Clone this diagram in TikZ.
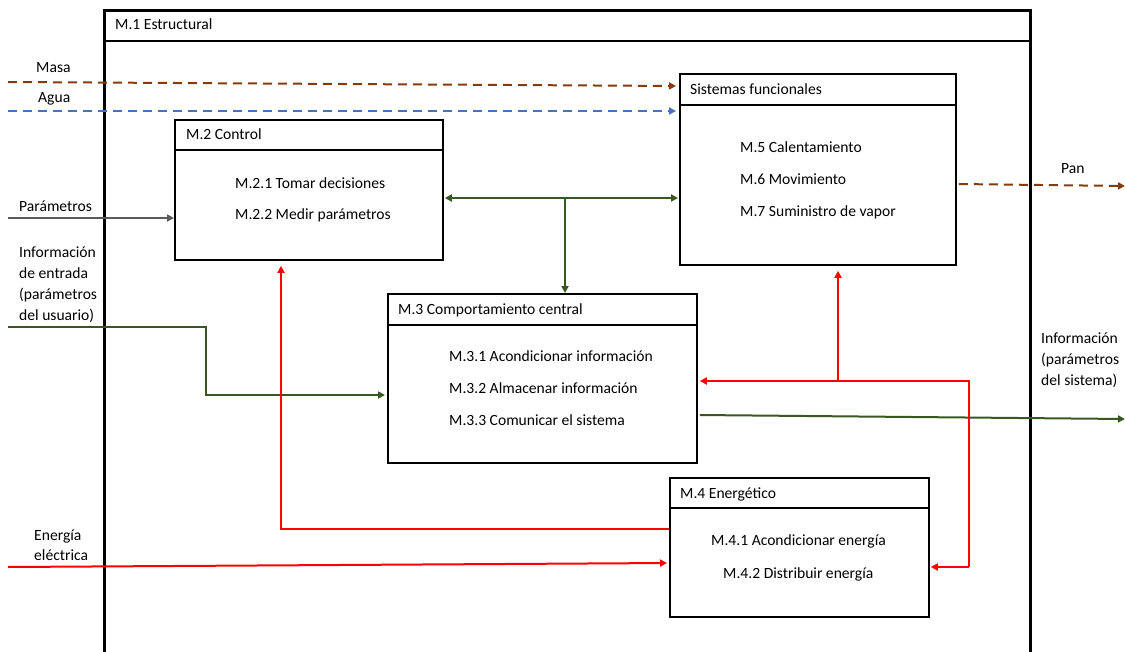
\documentclass[tikz,border=0pt]{standalone}
\usepackage{fontspec}
\setmainfont{Carlito}
\usetikzlibrary{arrows.meta,calc}
\definecolor{cbrown}{HTML}{843C0C}
\definecolor{cblue}{HTML}{4472C4}
\definecolor{cgreen}{HTML}{385723}
\definecolor{cgray}{HTML}{595959}
\tikzset{
  box/.style={draw=black, line width=1.8pt, fill=white, anchor=north west, inner sep=0pt},
  hdr/.style={line width=1.8pt},
  txt/.style={anchor=base west, inner sep=0pt, font=\fontsize{15.6pt}{21pt}\selectfont},
  tip/.style={-{Triangle[length=7pt,width=7pt]}},
  dtip/.style={{Triangle[length=7pt,width=7pt]}-{Triangle[length=7pt,width=7pt]}},
  dashline/.style={line width=2pt, dash pattern=on 9pt off 6pt},
  masaline/.style={dashline, cbrown, tip},
  agualine/.style={dashline, cblue, tip},
  greenline/.style={line width=2pt, cgreen},
  redline/.style={line width=2pt, red},
  grayline/.style={line width=2pt, cgray, tip}
}
\begin{document}
\begin{tikzpicture}[x=1pt,y=-1pt]
\useasboundingbox (0,0) rectangle (1125,651);
% outer structural box
\node[box, line width=2.8pt, fill=none, minimum width=926pt, minimum height=660pt] (m1) at (103,9) {};
\draw[line width=2.8pt] ($(m1.north west)+(0,32)$) -- ($(m1.north east)+(0,32)$);
\node[txt] (m1t) at (115,29) {M.1 Estructural};

% boxes
\node[box, minimum width=268pt, minimum height=140pt] (ctl) at (174,119) {};
\node[box, minimum width=276pt, minimum height=191pt] (sys) at (679,73) {};
\node[box, minimum width=309pt, minimum height=169pt] (m3) at (387,293) {};
\node[box, minimum width=259pt, minimum height=139pt] (m4) at (669,477) {};
\draw[hdr] ($(ctl.north west)+(0,31)$) -- ($(ctl.north east)+(0,31)$);
\draw[hdr] ($(sys.north west)+(0,32)$) -- ($(sys.north east)+(0,32)$);
\draw[hdr] ($(m3.north west)+(0,32)$) -- ($(m3.north east)+(0,32)$);
\draw[hdr] ($(m4.north west)+(0,31)$) -- ($(m4.north east)+(0,31)$);

% box texts
\node[txt] (ctlt) at (186,139) {M.2 Control};
\node[txt] (ctl1) at (235,188) {M.2.1 Tomar decisiones};
\node[txt] (ctl2) at (235,219) {M.2.2 Medir parámetros};
\node[txt] (syst) at (690,94) {Sistemas funcionales};
\node[txt] (sys1) at (740,152) {M.5 Calentamiento};
\node[txt] (sys2) at (740,184) {M.6 Movimiento};
\node[txt] (sys3) at (740,216) {M.7 Suministro de vapor};
\node[txt] (m3t) at (398,314) {M.3 Comportamiento central};
\node[txt] (m31) at (449,361) {M.3.1 Acondicionar información};
\node[txt] (m32) at (449,393) {M.3.2 Almacenar información};
\node[txt] (m33) at (449,425) {M.3.3 Comunicar el sistema};
\node[txt] (m4t) at (680,498) {M.4 Energético};
\node[txt] (m41) at (711,545) {M.4.1 Acondicionar energía};
\node[txt] (m42) at (723,578) {M.4.2 Distribuir energía};

% outside labels
\node[txt] (lmasa) at (36,72) {Masa};
\node[txt] (lagua) at (38,102) {Agua};
\node[txt] (lpar) at (19,211) {Parámetros};
\node[txt] (lie1) at (19,257) {Información};
\node[txt] (lie2) at (19,278) {de entrada};
\node[txt] (lie3) at (19,299) {(parámetros};
\node[txt] (lie4) at (19,320) {del usuario)};
\node[txt] (len1) at (34,540) {Energía};
\node[txt] (len2) at (34,560) {eléctrica};
\node[txt] (lpan) at (1061,173) {Pan};
\node[txt] (lis1) at (1041,343) {Información};
\node[txt] (lis2) at (1041,364) {(parámetros};
\node[txt] (lis3) at (1041,385) {del sistema)};

% free ends and bends
\coordinate (masaIn) at (8,82);
\coordinate (aguaIn) at (8,111);
\coordinate (panOut) at (1125,186);
\coordinate (parIn) at (8,218);
\coordinate (ieIn) at (8,327);
\coordinate (ieB1) at (206,327);
\coordinate (ieB2) at (206,395);
\coordinate (infOut) at (1125,419);
\coordinate (enIn) at (8,567);
\coordinate (gJ) at (565,198);
\coordinate (rB1) at (281,529);
\coordinate (rR) at (969,567);
\coordinate (rR2) at (969,381);
\coordinate (rJ) at (838,381);

% connectors
\draw[masaline, shorten >=3pt] (masaIn) -- ($(sys.north west)+(0,13)$);
\draw[agualine, shorten >=3pt] (aguaIn) -- ($(sys.north west)+(0,38)$);
\draw[masaline, shorten <=1pt] ($(sys.north east)+(1,111)$) -- (panOut);
\draw[grayline] (parIn) -- ($(ctl.north west)+(0,99)$);
\draw[greenline, tip, shorten >=2pt] (ieIn) -- (ieB1) -- (ieB2) -- ($(m3.north west)+(0,102)$);
\draw[greenline, dtip] ($(ctl.north east)+(1,79)$) -- ($(sys.north west)+(-1,125)$);
\draw[greenline, tip] (gJ) -- (gJ |- m3.north);
\draw[greenline, tip] ($(m3.north east)+(2,122)$) -- (infOut);
\draw[redline, tip, shorten >=5pt] ($(m4.north west)+(0,52)$) -- (rB1) -- (rB1 |- ctl.south);
\draw[redline, tip, shorten >=2pt] (enIn) -- ($(m4.north west)+(0,86)$);
\draw[redline, tip] (rR) -- ($(m4.north east)+(1,90)$);
\draw[redline, tip] (rR) -- (rR2) -- ($(m3.north east)+(2,88)$);
\draw[redline, tip, shorten >=5pt] (rJ) -- (rJ |- sys.south);
\end{tikzpicture}
\end{document}
